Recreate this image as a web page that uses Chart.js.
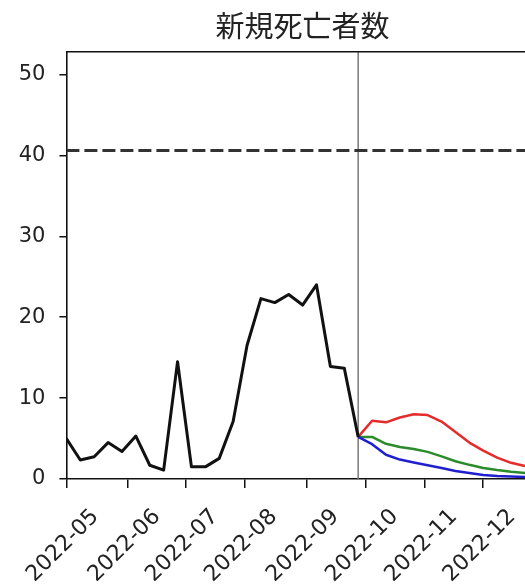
<!DOCTYPE html>
<html>
<head>
<meta charset="utf-8">
<script src="https://cdn.jsdelivr.net/npm/chart.js@4/dist/chart.umd.min.js"></script>
<style>
  html, body { margin: 0; padding: 0; background: #fff; overflow: hidden; }
  #wrap { width: 545px; height: 586px; }
</style>
</head>
<body>
<div id="wrap"><canvas id="c" width="545" height="586"></canvas></div>
<script>
// ---- data ----
const chartTitle = '新規死亡者数';
const monthLabels = ['2022-05', '2022-06', '2022-07', '2022-08', '2022-09', '2022-10', '2022-11', '2022-12'];
// month tick positions, in weeks since the first observation
const monthTickWeeks = [0, 4.44, 8.59, 12.84, 17.28, 21.55, 25.80, 30.0];
const yTicks = [0, 10, 20, 30, 40, 50];
const yMax = 52.8;
const xMax = 34;

// weekly observed new deaths
const observed = [5.0, 2.35, 2.75, 4.5, 3.4, 5.3, 1.7, 1.1, 14.5, 1.5, 1.5, 2.55,
                  7.1, 16.5, 22.3, 21.8, 22.8, 21.5, 24.0, 13.9, 13.7, 5.2];
const forecastStartWeek = 21;
// weekly forecast scenarios
const forecastRed   = [5.2, 7.2, 7.0, 7.6, 8.0, 7.9, 7.1, 5.8, 4.5, 3.5, 2.65, 2.0, 1.6, 1.3];
const forecastGreen = [5.2, 5.2, 4.35, 3.95, 3.7, 3.35, 2.8, 2.2, 1.75, 1.35, 1.1, 0.9, 0.75, 0.65];
const forecastBlue  = [5.2, 4.3, 3.0, 2.4, 2.05, 1.7, 1.35, 1.0, 0.75, 0.5, 0.38, 0.3, 0.24, 0.2];
const thresholdLevel = 40.6;

// ---- build datasets ----
const obsPts = observed.map((v, i) => ({ x: i, y: v }));
const fc = arr => arr.map((v, i) => ({ x: forecastStartWeek + i, y: v }));

const framePlugin = {
  id: 'frame',
  afterDatasetsDraw(chart) {
    const { ctx, chartArea: a } = chart;
    ctx.save();
    ctx.strokeStyle = '#111';
    ctx.lineWidth = 1.6;
    ctx.beginPath();
    ctx.moveTo(a.left, a.top);
    ctx.lineTo(a.right, a.top);
    ctx.lineTo(a.right, a.bottom);
    ctx.stroke();
    ctx.restore();
  }
};

const lineBase = { pointRadius: 0, tension: 0, fill: false, borderJoinStyle: 'round' };

new Chart(document.getElementById('c'), {
  type: 'line',
  data: {
    datasets: [
      Object.assign({ data: obsPts, borderColor: '#111', borderWidth: 3 }, lineBase),
      Object.assign({ data: fc(forecastBlue), borderColor: '#1f1fd0', borderWidth: 2.5 }, lineBase),
      Object.assign({ data: fc(forecastGreen), borderColor: '#2a8c2a', borderWidth: 2.5 }, lineBase),
      Object.assign({ data: fc(forecastRed), borderColor: '#e52b2b', borderWidth: 2.5 }, lineBase),
      Object.assign({ data: [{ x: 0, y: thresholdLevel }, { x: xMax, y: thresholdLevel }],
        borderColor: '#333', borderWidth: 3, borderDash: [13, 5] }, lineBase),
      Object.assign({ data: [{ x: forecastStartWeek, y: 0 }, { x: forecastStartWeek, y: yMax }],
        borderColor: '#7a7a7a', borderWidth: 1.5 }, lineBase)
    ]
  },
  options: {
    responsive: false,
    animation: false,
    events: [],
    layout: { padding: { left: 0, right: 6.2, top: 0, bottom: 0 } },
    plugins: {
      legend: { display: false },
      tooltip: { enabled: false },
      title: {
        display: true,
        text: chartTitle,
        fullSize: false,
        color: '#222',
        font: { family: '"Noto Sans CJK JP", "Noto Sans", sans-serif', size: 29, weight: 'normal' },
        padding: { top: 9, bottom: 8 }
      }
    },
    scales: {
      x: {
        type: 'linear',
        min: 0,
        max: xMax,
        afterBuildTicks: s => { s.ticks = monthTickWeeks.map(v => ({ value: v })); },
        afterFit: s => { s.height = 107; s.paddingLeft = 0; s.paddingRight = 0; },
        grid: { drawOnChartArea: false, drawTicks: true, tickLength: 9, color: '#111', lineWidth: 1.5 },
        border: { display: true, color: '#111', width: 1.6 },
        ticks: {
          autoSkip: false,
          maxRotation: 45,
          minRotation: 45,
          padding: 16,
          labelOffset: 29,
          color: '#222',
          font: { family: '"DejaVu Sans", sans-serif', size: 22 },
          callback: (v, i) => monthLabels[i]
        }
      },
      y: {
        type: 'linear',
        min: 0,
        max: yMax,
        afterBuildTicks: s => { s.ticks = yTicks.map(v => ({ value: v })); },
        afterFit: s => { s.width = 66.4; s.paddingTop = 0; s.paddingBottom = 0; },
        grid: { drawOnChartArea: false, drawTicks: true, tickLength: 7, color: '#111', lineWidth: 1.5 },
        border: { display: true, color: '#111', width: 1.6 },
        ticks: {
          padding: 14,
          color: '#222',
          font: { family: '"DejaVu Sans", sans-serif', size: 21 },
          callback: v => String(v)
        }
      }
    }
  },
  plugins: [framePlugin]
});
</script>
</body>
</html>
